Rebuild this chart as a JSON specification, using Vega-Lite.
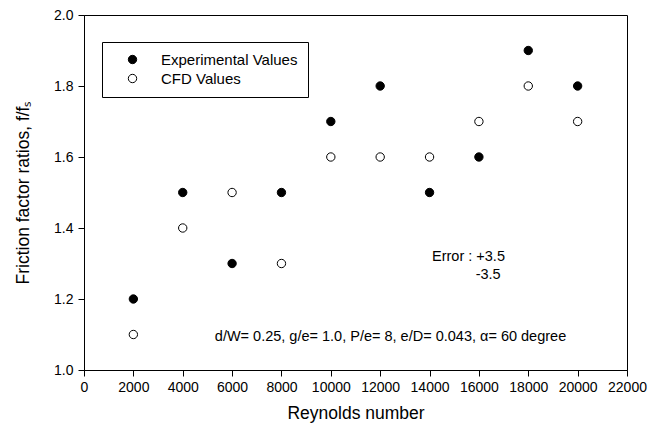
{
  "$schema": "https://vega.github.io/schema/vega-lite/v6.json",
  "width": 543,
  "height": 355,
  "autosize": {"type": "none"},
  "padding": {"left": 84, "top": 15, "right": 21, "bottom": 58},
  "background": "white",
  "config": {
    "font": "Liberation Sans",
    "view": {"stroke": "black", "strokeWidth": 1},
    "axis": {
      "grid": false,
      "domainColor": "black",
      "tickColor": "black",
      "labelColor": "black",
      "titleColor": "black",
      "labelFontSize": 14,
      "titleFontSize": 17.5,
      "titleFontWeight": "normal",
      "tickSize": 6,
      "labelOverlap": false,
      "labelFlush": false,
      "labelBound": false
    }
  },
  "datasets": {
    "points": [
      {"re": 2000, "ratio": 1.2, "series": "Experimental Values"},
      {"re": 4000, "ratio": 1.5, "series": "Experimental Values"},
      {"re": 6000, "ratio": 1.3, "series": "Experimental Values"},
      {"re": 8000, "ratio": 1.5, "series": "Experimental Values"},
      {"re": 10000, "ratio": 1.7, "series": "Experimental Values"},
      {"re": 12000, "ratio": 1.8, "series": "Experimental Values"},
      {"re": 14000, "ratio": 1.5, "series": "Experimental Values"},
      {"re": 16000, "ratio": 1.6, "series": "Experimental Values"},
      {"re": 18000, "ratio": 1.9, "series": "Experimental Values"},
      {"re": 20000, "ratio": 1.8, "series": "Experimental Values"},
      {"re": 2000, "ratio": 1.1, "series": "CFD Values"},
      {"re": 4000, "ratio": 1.4, "series": "CFD Values"},
      {"re": 6000, "ratio": 1.5, "series": "CFD Values"},
      {"re": 8000, "ratio": 1.3, "series": "CFD Values"},
      {"re": 10000, "ratio": 1.6, "series": "CFD Values"},
      {"re": 12000, "ratio": 1.6, "series": "CFD Values"},
      {"re": 14000, "ratio": 1.6, "series": "CFD Values"},
      {"re": 16000, "ratio": 1.7, "series": "CFD Values"},
      {"re": 18000, "ratio": 1.8, "series": "CFD Values"},
      {"re": 20000, "ratio": 1.7, "series": "CFD Values"}
    ],
    "notes": [
      {"x": 14100, "y": 1.317, "label": "Error : +3.5"},
      {"x": 15870, "y": 1.267, "label": "-3.5"},
      {"x": 5300, "y": 1.093, "label": "d/W= 0.25, g/e= 1.0, P/e= 8, e/D= 0.043, α= 60 degree"}
    ]
  },
  "layer": [
    {
      "data": {"name": "points"},
      "mark": {"type": "point", "filled": false, "stroke": "black", "strokeWidth": 1, "size": 70, "shape": "circle", "opacity": 1},
      "encoding": {
        "x": {
          "field": "re", "type": "quantitative",
          "scale": {"domain": [0, 22000], "nice": false},
          "axis": {"values": [0, 2000, 4000, 6000, 8000, 10000, 12000, 14000, 16000, 18000, 20000, 22000], "format": "d", "title": "Reynolds number", "titlePadding": 10, "labelPadding": 4}
        },
        "y": {
          "field": "ratio", "type": "quantitative",
          "scale": {"domain": [1.0, 2.0], "nice": false, "zero": false},
          "axis": {"values": [1.0, 1.2, 1.4, 1.6, 1.8, 2.0], "format": ".1f", "title": "Friction factor ratios, f/fₛ", "titlePadding": 21, "labelPadding": 5}
        },
        "fill": {
          "field": "series", "type": "nominal",
          "scale": {"domain": ["Experimental Values", "CFD Values"], "range": ["black", "white"]},
          "legend": {
            "orient": "none", "legendX": 18, "legendY": 27, "title": null,
            "strokeColor": "black", "fillColor": "white", "padding": 10,
            "labelFontSize": 15, "labelColor": "black", "symbolType": "circle",
            "symbolSize": 70, "symbolStrokeColor": "black", "symbolStrokeWidth": 1,
            "symbolOffset": 13, "labelOffset": 21, "rowPadding": 3, "labelLimit": 300
          }
        }
      }
    },
    {
      "data": {"name": "notes"},
      "mark": {"type": "text", "align": "left", "baseline": "middle", "fontSize": 14.5, "color": "black"},
      "encoding": {
        "x": {"field": "x", "type": "quantitative"},
        "y": {"field": "y", "type": "quantitative"},
        "text": {"field": "label"}
      }
    }
  ]
}
